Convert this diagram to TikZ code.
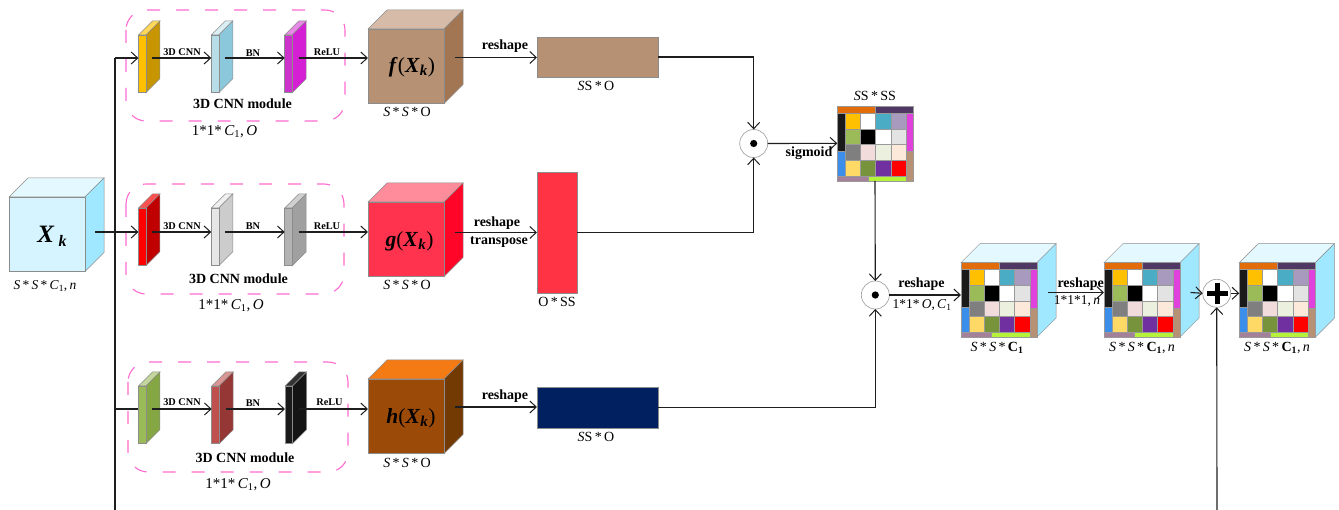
\documentclass[tikz,border=0pt]{standalone}
\usepackage{fontspec}
\setmainfont{Liberation Serif}
\usetikzlibrary{arrows.meta}
\definecolor{lnk}{HTML}{1E1E1E}
\definecolor{modpink}{HTML}{FF6AD0}
\definecolor{tanc}{HTML}{B79173}
\definecolor{redc}{HTML}{FF3344}
\definecolor{navyc}{HTML}{002060}
\tikzset{
  x=1pt,y=-1pt,
  link/.style={draw=lnk,line width=1.1pt,-{Straight Barb[length=6.5pt,width=12pt,line width=1pt]}},
  plainlink/.style={draw=lnk,line width=1.1pt},
  modbox/.style={draw=modpink,line width=1.1pt,rounded corners=20pt,dash pattern=on 13pt off 16pt},
  facebox/.style={inner sep=0pt,outer sep=0pt,anchor=north west},
  edge/.style={draw=black!45,line width=0.5pt},
  opc/.style={circle,draw=black!35,fill=white,line width=0.7pt,minimum size=28pt,inner sep=0pt,outer sep=0pt},
  lab/.style={inner sep=0pt,font=\fontsize{14}{14}\selectfont},
  blab/.style={inner sep=0pt,font=\fontsize{14}{14}\selectfont\bfseries},
  tinylab/.style={inner sep=0pt,font=\fontsize{10.3}{10}\selectfont\bfseries},
  dimlab/.style={inner sep=0pt,font=\fontsize{15}{15}\selectfont},
  cubelab/.style={inner sep=0pt,font=\fontsize{21.5}{22}\selectfont},
}
\newcommand{\thinslab}[7]{%
  \definecolor{cf}{HTML}{#4}\definecolor{ct}{HTML}{#5}\definecolor{cs}{HTML}{#6}%
  \begin{scope}[shift={(#2,#3)}]
    \filldraw[edge,fill=ct] (0,0)--(7.5,0)--(21.5,-14)--(14,-14)--cycle;
    \filldraw[edge,fill=cs] (7.5,0)--(21.5,-14)--(21.5,43.7)--(7.5,57.7)--cycle;
    \node[facebox,edge,fill=cf,minimum width=7.5pt,minimum height=57.7pt] (#1) at (0,0) {};
    \coordinate (#1-i) at (0,#7);
    \coordinate (#1-o) at (14,#7);
  \end{scope}}
\newcommand{\cubefaces}[6]{%
  \definecolor{cf}{HTML}{#4}\definecolor{ct}{HTML}{#5}\definecolor{cs}{HTML}{#6}%
  \begin{scope}[shift={(#2,#3)}]
    \filldraw[edge,fill=ct] (0,0)--(76,0)--(95,-19)--(19,-19)--cycle;
    \filldraw[edge,fill=cs] (76,0)--(95,-19)--(95,55.5)--(76,74.5)--cycle;
    \node[facebox,edge,fill=cf,minimum width=76pt,minimum height=74.5pt] (#1) at (0,0) {};
  \end{scope}}
\newcommand{\cellgrid}[3]{%
  \begin{scope}[shift={(#2,#3)}]
    \node[facebox,edge,fill=white,minimum width=76pt,minimum height=74.7pt] (#1) at (0,0) {};
    \foreach \xa/\ya/\xb/\yb/\c in {
      0/0/37.7/6.7/E36C0A, 37.7/0/76/6.7/4F3864,
      0/6.7/8/45/1A1A1A, 0/45/8/69.7/3B8EEA,
      8/6.7/23.2/22.7/FFC000, 23.2/6.7/38/22.7/FFFFFF, 38/6.7/53.4/22.7/4BACC6, 53.4/6.7/68.7/22.7/A89ABF,
      8/22.7/23.2/38.3/9BBB59, 23.2/22.7/38/38.3/000000, 38/22.7/53.4/38.3/FFFFFF, 53.4/22.7/68.7/38.3/E3E3E3,
      8/38.3/23.2/54/7F7F7F, 23.2/38.3/38/54/F2DCDB, 38/38.3/53.4/54/EBF1DE, 53.4/38.3/68.7/54/FDE9D9,
      8/54/23.2/69.7/FFD966, 23.2/54/38/69.7/77933C, 38/54/53.4/69.7/7030A0, 53.4/54/68.7/69.7/FF0000,
      68.7/6.7/76/45.5/E040DC, 68.7/45.5/76/74.7/B79173,
      0/69.7/30.5/74.7/A5809A, 30.5/69.7/68.7/74.7/B5F23A}
      {\definecolor{cc}{HTML}{\c}\filldraw[draw=black!40,line width=0.35pt,fill=cc] (\xa,\ya) rectangle (\xb,\yb);}
  \end{scope}}
\newcommand{\sss}{\textit{S}\,*\,\textit{S}\,*\,}
\newcommand{\ccone}{\textit{C}\textsubscript{1}}
\newcommand{\boldone}{\textbf{C}\textsubscript{\textbf{1}}}
\newcommand{\fnk}[1]{\textbf{\textit{#1}}(\textbf{\textit{X}}\textsubscript{\textbf{\textit{k}}})}
\begin{document}
\begin{tikzpicture}
\useasboundingbox (0,0) rectangle (1339,510);
% module frames
\draw[modbox] (126,10) rectangle (345,121);
\draw[modbox] (126,184) rectangle (344,294);
\draw[modbox] (128,362) rectangle (348,472);
% input cube
\cubefaces{xk}{9}{197}{D5F4FF}{E4F9FF}{A0E8FF}
\coordinate (xk-o) at (95,232);
\node[cubelab] (xkt) at (52,236) {\fontsize{25}{26}\selectfont\textbf{\textit{X}\,\raisebox{-4pt}{\fontsize{16}{17}\selectfont\textit{k}}}};
\node[lab] (xkd) at (45,286) {\fontsize{13.5}{14}\selectfont\sss\ccone,\,\textit{n}};
% slabs
\thinslab{a1}{138.4}{35}{FFC000}{FFD85A}{C79500}{23}
\thinslab{a2}{211.3}{35}{B7DEE8}{DAEEF3}{8CC8DC}{23}
\thinslab{a3}{284.7}{35}{CC33CC}{E68AE6}{D41FD4}{23}
\thinslab{b1}{138.4}{208}{FF0000}{FF5050}{C00000}{24}
\thinslab{b2}{211.3}{208}{E6E6E6}{F0F0F0}{CCCCCC}{24}
\thinslab{b3}{284.7}{208}{B3B3B3}{D0D0D0}{A0A0A0}{24}
\thinslab{c1}{138.4}{386}{9BBB59}{C3D69B}{84A643}{23}
\thinslab{c2}{211.7}{386}{C0504D}{D99694}{953735}{23}
\thinslab{c3}{285}{386}{1A1A1A}{333333}{141414}{23}
% feature cubes
\cubefaces{fc}{368}{29}{B79173}{D5BBA8}{A27653}
\cubefaces{gc}{368}{202}{FF334D}{FF8C9A}{FF0528}
\cubefaces{hc}{368}{379}{9C4A08}{F47A14}{733A04}
\coordinate (fc-i) at (368,58);
\coordinate (gc-i) at (368,232);
\coordinate (hc-i) at (368,409);
\coordinate (fc-o) at (455,57.5);
\coordinate (gc-o) at (455,232.5);
\coordinate (hc-o) at (455,407);
\node[cubelab] (fct) at (412,67) {\fnk{f}};
\node[cubelab] (gct) at (409.5,241) {\fnk{g}};
\node[cubelab] (hct) at (411,418) {\fnk{h}};
% flat tensors
\node[facebox,edge,fill=tanc,minimum width=121pt,minimum height=40pt] (ft) at (537,37) {};
\node[facebox,edge,fill=redc,minimum width=40pt,minimum height=121pt] (gt) at (537,172) {};
\node[facebox,edge,fill=navyc,minimum width=121pt,minimum height=41pt] (ht) at (537,387) {};
% attention map and outputs
\cellgrid{m0}{837.3}{106}
\cubefaces{o1b}{961}{262.6}{FFFFFF}{E4F9FF}{A0E8FF}
\cellgrid{m1}{961}{262.6}
\cubefaces{o2b}{1104}{262.6}{FFFFFF}{E4F9FF}{A0E8FF}
\cellgrid{m2}{1104}{262.6}
\cubefaces{o3b}{1239.3}{262.6}{FFFFFF}{E4F9FF}{A0E8FF}
\cellgrid{m3}{1239.3}{262.6}
% operators
\node[opc] (op1) at (753.7,143.5) {};
\fill[black] (op1.center) circle (3.6);
\node[opc] (op2) at (875.3,295) {};
\fill[black] (op2.center) circle (3.6);
\node[opc] (op3) at (1216.7,293.3) {};
\fill[black] (1206.5,290.8) rectangle (1227.5,295.8);
\fill[black] (1214.5,283) rectangle (1219.5,304);
% free ends
\coordinate (trunkTop) at (115,58);
\coordinate (trunkMid) at (115,232);
\coordinate (trunkLow) at (115,409);
\coordinate (trunkEnd) at (115,510);
\coordinate (skipEnd) at (1217,510);
\coordinate (m1-i) at (961,295);
\coordinate (m1-o) at (1048,292.5);
\coordinate (m2-i) at (1104,292.5);
\coordinate (m2-o) at (1190.5,292.5);
\coordinate (m3-i) at (1239.3,293.3);
\coordinate (m0-b) at (875,181);
% connectors
\draw[plainlink] (trunkEnd) -- (trunkTop);
\draw[link] (trunkTop) -- (a1-i);
\draw[link] (xk-o) -- (b1-i);
\draw[plainlink] (trunkLow) -- (c1-i);
\draw[link] (a1-o) -- (a2-i);
\draw[link] (a2-o) -- (a3-i);
\draw[link] (a3-o) -- (fc-i);
\draw[link] (b1-o) -- (b2-i);
\draw[link] (b2-o) -- (b3-i);
\draw[link] (b3-o) -- (gc-i);
\draw[link] (c1-o) -- (c2-i);
\draw[link] (c2-o) -- (c3-i);
\draw[link] (c3-o) -- (hc-i);
\draw[link] (fc-o) -- (ft.west |- fc-o);
\draw[link] (gc-o) -- (gt.west |- gc-o);
\draw[link] (hc-o) -- (ht.west |- hc-o);
\draw[link] (ft.east) -| (op1.north);
\draw[link] (gt.east) -| (op1.south);
\draw[link] (ht.east) -| (op2.south);
\draw[link] (op1.east) -- (m0.west);
\draw[link] (m0-b) -- (op2.north);
\draw[link] (op2.east) -- (m1-i);
\draw[link] (m1-o) -- (m2-i);
\draw[link] (m2-o) -- (op3.west);
\draw[link] (op3.east) -- (m3-i);
\draw[link] (skipEnd) -- (op3.south);
% labels
\node[tinylab] (t1) at (182,52) {3D CNN};
\node[tinylab] (t2) at (253,53) {BN};
\node[tinylab] (t3) at (327,52) {ReLU};
\node[tinylab] (t4) at (182,226) {3D CNN};
\node[tinylab] (t5) at (253,226.5) {BN};
\node[tinylab] (t6) at (327,226) {ReLU};
\node[tinylab] (t7) at (182,402.5) {3D CNN};
\node[tinylab] (t8) at (253,403.5) {BN};
\node[tinylab] (t9) at (329.5,402.5) {ReLU};
\node[blab] (m1t) at (242.5,104) {3D CNN module};
\node[blab] (m2t) at (238.5,278.5) {3D CNN module};
\node[blab] (m3t) at (245,458) {3D CNN module};
\node[dimlab] (d1) at (224.5,132) {1*1*\,\ccone,\,\textit{O}};
\node[dimlab] (d2) at (231,305.5) {1*1*\,\ccone,\,\textit{O}};
\node[dimlab] (d3) at (238,485) {1*1*\,\ccone,\,\textit{O}};
\node[lab] (s1) at (407,111.5) {\sss O};
\node[lab] (s2) at (407,285) {\sss O};
\node[lab] (s3) at (407,463) {\sss O};
\node[blab] (r1) at (505,46) {reshape};
\node[blab] (r2) at (497,223) {reshape};
\node[blab] (r3) at (499,242.5) {transpose};
\node[blab] (r4) at (505,396.5) {reshape};
\node[lab] (z1) at (596,86) {\textit{S}S\,*\,O};
\node[lab] (z2) at (557,302) {O\,*\,SS};
\node[lab] (z3) at (596,437) {\textit{S}S\,*\,O};
\node[lab] (z4) at (875,96) {\textit{S}S\,*\,SS};
\node[blab] (sg) at (809,153) {sigmoid};
\node[blab] (r5) at (921.5,284) {reshape};
\node[lab] (r6) at (922,305) {\fontsize{13.5}{14}\selectfont 1*1*\,\textit{O},\,\ccone};
\node[blab] (r7) at (1080.7,284) {reshape};
\node[lab] (r8) at (1077,301) {\fontsize{13.5}{14}\selectfont 1*1*1,\,\textit{n}};
\node[lab] (o1) at (997,348) {\sss\boldone};
\node[lab] (o2) at (1142,348) {\sss\boldone,\,\textit{n}};
\node[lab] (o3) at (1277,348) {\sss\boldone,\,\textit{n}};
\end{tikzpicture}
\end{document}
